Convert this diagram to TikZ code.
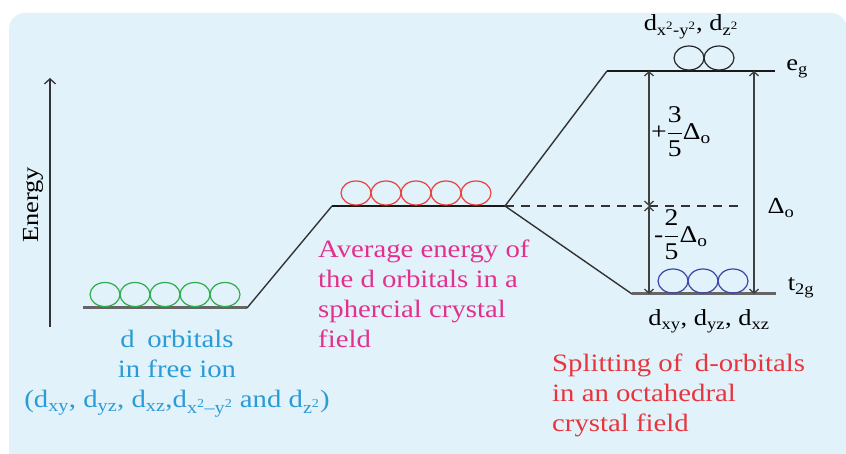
\documentclass[tikz,border=0pt]{standalone}
\usepackage{amsmath}
\usepackage{fontspec}
\setmainfont{Liberation Serif}[FakeStretch=1.15]
\usetikzlibrary{shapes.geometric,arrows.meta}
\definecolor{bgblue}{HTML}{E1F2FA}
\definecolor{orbgreen}{HTML}{2EAD4B}
\definecolor{orbred}{HTML}{E8413C}
\definecolor{orbblue}{HTML}{3B45A5}
\definecolor{txtblue}{HTML}{2A9BD5}
\definecolor{txtpink}{HTML}{E2318C}
\definecolor{txtred}{HTML}{E8353D}
\tikzset{orb/.style={
    ellipse,
    draw,
    line width=1.2pt,
    inner sep=0pt,
    minimum width=30pt,
    minimum height=24pt
  },
  greenorb/.style={orb,draw=orbgreen},
  redorb/.style={orb,draw=orbred},
  blackorb/.style={orb,draw=black!85},
  blueorb/.style={orb,draw=orbblue},
  levelline/.style={line width=3pt,draw=black!60},
  egline/.style={line width=2pt,draw=black!90},
  slope/.style={line width=1.4pt,draw=black!80},
  gap/.style={line width=1.3pt,draw=black!75,
    {Straight Barb[length=4pt,width=9pt]}-{Straight Barb[length=4pt,width=9pt]}},
  lbl/.style={font=\fontsize{23}{27}\selectfont,inner sep=0pt},
  info/.style={font=\fontsize{25}{30}\selectfont,align=left,inner sep=0pt},
}

\begin{document}
\begin{tikzpicture}[x=1pt,y=-1pt]
  \useasboundingbox (0,0) rectangle (846,454);
  \fill[bgblue,rounded corners=16pt] (9,13) rectangle (847,475);

  % energy axis
  \coordinate (ebot) at (50,327);
  \coordinate (etop) at (50,78);
  \draw[line width=1.3pt,black!80,-{Straight Barb[length=5pt,width=11pt]}] (ebot) -- (etop);
  \node[lbl,rotate=90] (energy) at (33,205) {Energy};

  % level ends
  \coordinate (freeL) at (83,308);
  \coordinate (freeR) at (247,308);
  \coordinate (sphL) at (332,206);
  \coordinate (sphR) at (505,206);
  \coordinate (egL) at (607,71);
  \coordinate (egR) at (775,71);
  \coordinate (tL) at (632,294);
  \coordinate (tR) at (776,294);
  \coordinate (dashR) at (742,206);

  \draw[levelline] (freeL) -- (freeR);
  \draw[slope] (freeR) -- (sphL);
  \draw[egline] (sphL) -- (sphR);
  \draw[slope] (sphR) -- (egL);
  \draw[slope] (sphR) -- (tL);
  \draw[egline] (egL) -- (egR);
  \draw[levelline] (tL) -- (tR);
  \draw[line width=1.4pt,black!80,dash pattern=on 9pt off 7pt] (sphR) -- (dashR);

  % orbitals
  \foreach \i in {1,...,5}
    \node[greenorb] (g\i) at (75+30*\i,294.5) {};
  \foreach \i in {1,...,5}
    \node[redorb] (r\i) at (326+30*\i,193) {};
  \foreach \i in {1,2}
    \node[blackorb] (e\i) at (659+30*\i,58) {};
  \foreach \i in {1,2,3}
    \node[blueorb] (t\i) at (643+30*\i,281) {};

  % splitting arrows
  \coordinate (gtop) at (649,71);
  \coordinate (gmid) at (649,206);
  \coordinate (gbot) at (649,294);
  \coordinate (dtop) at (754,71);
  \coordinate (dbot) at (754,294);
  \draw[gap] (gmid) -- (gtop);
  \draw[gap] (gmid) -- (gbot);
  \draw[gap] (dtop) -- (dbot);

  % labels
  \node[lbl,anchor=west,font=\fontsize{24}{28}\selectfont] (plus) at (651,132) {+$\dfrac{\textrm{3}}{\textrm{5}}$Δ\textsubscript{o}};
  \node[lbl,anchor=west,font=\fontsize{24}{28}\selectfont] (minus) at (654,235) {-$\dfrac{\textrm{2}}{\textrm{5}}$Δ\textsubscript{o}};
  \node[lbl] (delta) at (781,208) {Δ\textsubscript{o}};
  \node[lbl] (eg) at (797,69) {e\textsubscript{g}};
  \node[lbl] (t2g) at (801,288) {t\textsubscript{2g}};
  \node[lbl] (egname) at (691,27) {d\textsubscript{x\textsuperscript{2}-y\textsuperscript{2}}, d\textsubscript{z\textsuperscript{2}}};
  \node[lbl] (t2gname) at (709,321) {d\textsubscript{xy}, d\textsubscript{yz}, d\textsubscript{xz}};

  \node[info,align=center,txtblue,anchor=north] (free) at (177,330)
    {d\enspace orbitals\\ in free ion\\
     (d\textsubscript{xy}, d\textsubscript{yz}, d\textsubscript{xz},d\textsubscript{x\textsuperscript{2}–y\textsuperscript{2}} and d\textsubscript{z\textsuperscript{2}})};
  \node[info,txtpink,anchor=north west] (sph) at (318,240)
    {Average energy of\\ the d orbitals in a\\ sphercial crystal\\ field};
  \node[info,txtred,anchor=north west] (oct) at (552,354)
    {Splitting of\enspace d-orbitals\\ in an octahedral\\ crystal field};
\end{tikzpicture}
\end{document}
